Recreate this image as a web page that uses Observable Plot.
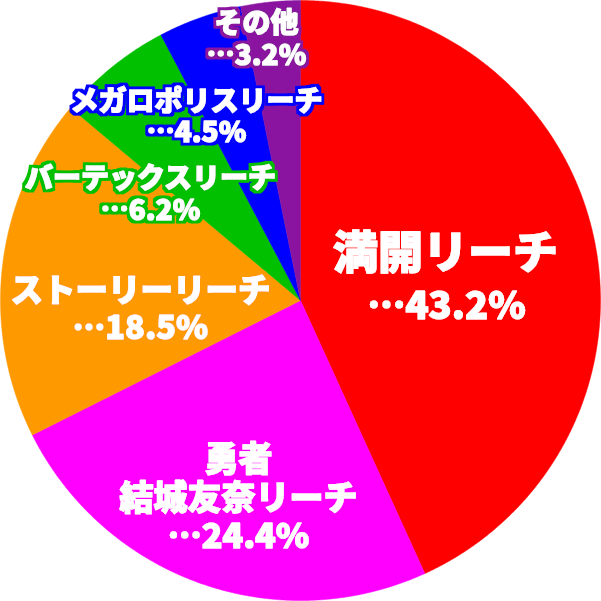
<!DOCTYPE html>
<html><head><meta charset="utf-8">
<script src="https://cdn.jsdelivr.net/npm/d3@7"></script>
<script src="https://cdn.jsdelivr.net/npm/@observablehq/plot@0.6"></script>
<style>
html,body{margin:0;padding:0;background:#fff;}
#chart{width:601px;height:601px;}
</style>
</head><body><div id="chart"></div>
<script>
// Data
const categories = ["満開リーチ", "勇者\n結城友奈リーチ", "ストーリーリーチ", "バーテックスリーチ", "メガロポリスリーチ", "その他"];
const shares = [43.2, 24.4, 18.5, 6.2, 4.5, 3.2];
const colors = ["#ff0000", "#ff00ff", "#ff9900", "#00c000", "#0000ff", "#8a14a0"];

// Label layout (block centre in screen pixels relative to pie centre, font size) — styling only
const labelLayout = [
  {dx: 145, dy: -20, size: 45, split: true, pctSize: 38},
  {dx: -62, dy: 197, size: 34, lh: 1.13},
  {dx: -160, dy: 8, size: 32.5, lh: 1.14},
  {dx: -150, dy: -107, size: 28, lh: 1.14},
  {dx: -104, dy: -184, size: 28, lh: 1.1},
  {dx: -44, dy: -262, size: 28, lh: 1.14}
];

const R = 300;
const pie = d3.pie().sort(null).value(d => d.share);
const rows = categories.map((c, i) => ({name: c, share: shares[i], color: colors[i], i}));
const arcs = pie(rows);

// Polygon vertices for each slice (angles clockwise from 12 o'clock)
const slicePts = [];
arcs.forEach(a => {
  const n = Math.max(4, Math.ceil((a.endAngle - a.startAngle) / 0.005));
  slicePts.push({x: 0, y: 0, k: a.data.i, color: a.data.color});
  for (let j = 0; j <= n; j++) {
    const t = a.startAngle + (a.endAngle - a.startAngle) * j / n;
    slicePts.push({x: R * Math.sin(t), y: R * Math.cos(t), k: a.data.i, color: a.data.color});
  }
  slicePts.push({x: 0, y: 0, k: a.data.i, color: a.data.color});
});

const font = "'Noto Sans CJK JP', sans-serif";
const textMarks = [];
const markColors = [];
function label(d, opts) {
  markColors.push(d.color);
  textMarks.push(Plot.text([d], {x: "x", y: "y", text: "text", fontSize: d.size, fontWeight: 900, fontFamily: font,
    textAnchor: "middle", lineAnchor: "middle", strokeLinejoin: "round",
    fill: "white", stroke: "white", strokeWidth: 1.1, ...opts}));
}
rows.forEach((r, i) => {
  const L = labelLayout[i];
  const pct = "…" + r.share.toFixed(1) + "%";
  if (L.split) {
    label({x: L.dx, y: -(L.dy - 26), text: r.name, size: L.size, color: r.color}, {});
    label({x: L.dx + 1, y: -(L.dy + 26), text: pct, size: L.pctSize, color: r.color}, {});
  } else {
    label({x: L.dx, y: -L.dy, text: r.name + "\n" + pct, size: L.size, color: r.color}, {lineHeight: L.lh});
  }
});

const chart = Plot.plot({
  width: 601, height: 601,
  marginTop: 0, marginLeft: 0, marginRight: 1, marginBottom: 1,
  x: {domain: [-R, R], axis: null},
  y: {domain: [-R, R], axis: null},
  style: {background: "white", overflow: "visible"},
  marks: [
    Plot.line(slicePts, {x: "x", y: "y", z: "k", fill: "color", stroke: "color", strokeWidth: 0.5, curve: "linear"}),
    ...textMarks
  ]
});

// Coloured halo around each label via an SVG filter
const svg = d3.select(chart);
const defs = svg.insert("defs", ":first-child");
markColors.forEach((c, i) => {
  const f = defs.append("filter").attr("id", "halo" + i)
    .attr("x", "-20%").attr("y", "-50%").attr("width", "140%").attr("height", "200%");
  f.append("feMorphology").attr("in", "SourceAlpha").attr("operator", "dilate").attr("radius", 3.2).attr("result", "d");
  f.append("feFlood").attr("flood-color", c).attr("result", "c");
  f.append("feComposite").attr("in", "c").attr("in2", "d").attr("operator", "in").attr("result", "h");
  const m = f.append("feMerge");
  m.append("feMergeNode").attr("in", "h");
  m.append("feMergeNode").attr("in", "SourceGraphic");
});
svg.selectAll("g[aria-label='text']").each(function(_, i) {
  d3.select(this).attr("filter", `url(#halo${i})`);
});

document.getElementById("chart").appendChild(chart);
</script>
</body></html>
